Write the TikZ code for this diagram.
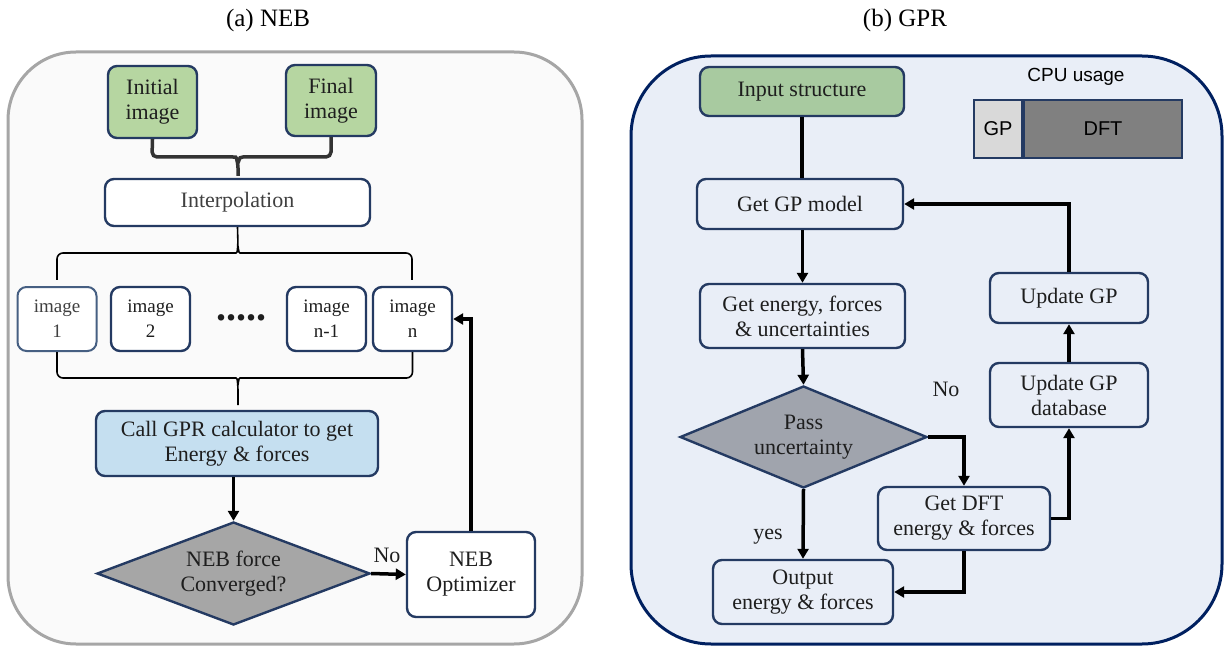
\documentclass[tikz,border=0pt]{standalone}
\usepackage{fontspec}
\setmainfont{Liberation Serif}
\newfontfamily\arialfont{Liberation Sans}
\usetikzlibrary{arrows.meta,shapes.geometric}
\definecolor{navy}{RGB}{36,58,98}
\definecolor{darknavy}{RGB}{0,32,96}
\definecolor{lpanel}{RGB}{250,250,250}
\definecolor{lborder}{RGB}{166,166,166}
\definecolor{rpanel}{RGB}{233,238,247}
\definecolor{lgreen}{RGB}{182,214,161}
\definecolor{rgreen}{RGB}{168,202,160}
\definecolor{lblue}{RGB}{197,223,240}
\definecolor{ldia}{RGB}{166,166,166}
\definecolor{rdia}{RGB}{160,164,173}
\definecolor{gplight}{RGB}{217,217,217}
\definecolor{dftgray}{RGB}{128,128,128}
\definecolor{txt}{RGB}{30,30,30}
\definecolor{gtxt}{RGB}{64,64,64}
\definecolor{bracegray}{RGB}{51,51,51}
\definecolor{im1border}{RGB}{70,95,130}
\tikzset{
  box/.style={draw=navy, line width=2.4pt, rounded corners=9pt, align=center, inner sep=0pt,
    font=\fontsize{22}{25}\selectfont, text=txt},
  imgbox/.style={box, minimum width=79pt, minimum height=64pt, fill=white, font=\fontsize{19}{25}\selectfont},
  dia/.style={draw=navy, line width=2.4pt, shape=diamond, inner sep=0pt},
  diatext/.style={align=center, font=\fontsize{22}{25}\selectfont, text=txt},
  arr/.style={line width=3.5pt, -{Triangle[length=10pt,width=11pt]}},
  plain/.style={line width=3.5pt},
  brace/.style={line width=3.5pt, draw=bracegray},
  thinbrace/.style={line width=1.6pt, draw=black},
  lbl/.style={font=\fontsize{22}{25}\selectfont, text=txt},
}
\begin{document}
\begin{tikzpicture}[x=1pt,y=-1pt]
\useasboundingbox (0,0) rectangle (1224,647);
\fill[white] (0,0) rectangle (1224,647);

% titles
\node[font=\fontsize{25}{28}\selectfont] (ta) at (268,20) {(a) NEB};
\node[font=\fontsize{25}{28}\selectfont] (tb) at (905,20) {(b) GPR};

% panels
\draw[draw=lborder, fill=lpanel, line width=3pt, rounded corners=68pt] (8,52) rectangle (582,644);
\draw[draw=darknavy, fill=rpanel, line width=3pt, rounded corners=80pt] (631,56) rectangle (1222,644);

% ---------- left panel ----------
\node[box, fill=lgreen, minimum width=89pt, minimum height=72pt] (ini) at (152.5,102) {Initial\\image};
\node[box, fill=lgreen, minimum width=90pt, minimum height=71pt] (fin) at (331,100.5) {Final\\image};
\node[box, fill=white, minimum width=265pt, minimum height=47pt, text=gtxt] (interp) at (237.5,202.5) {Interpolation};

\coordinate (b1) at (238,176);
\draw[brace, rounded corners=5pt] (ini.south) -- (152,157) -- (228,157) .. controls (236,157) .. (238,163) -- (b1);
\draw[brace, rounded corners=5pt] (fin.south) -- (331,157) -- (248,157) .. controls (240,157) .. (238,163);

\node[imgbox, draw=im1border, line width=2pt, text=gtxt] (im1) at (57,319) {image\\1};
\node[imgbox] (im2) at (150.5,319) {image\\2};
\node[font=\fontsize{40}{40}\selectfont\bfseries, text=txt] (dots) at (241,318) {.....};
\node[imgbox] (imn1) at (326.5,319) {image\\n-1};
\node[imgbox] (imn) at (412.5,319) {image\\n};

\coordinate (b2a) at (57,280);
\coordinate (b2b) at (412,280);
\draw[thinbrace, rounded corners=6pt] (b2a) -- (57,253) -- (230,253) .. controls (237,253) .. (238,246) -- (interp.south);
\draw[thinbrace, rounded corners=6pt] (b2b) -- (412,253) -- (246,253) .. controls (239,253) .. (238,246);

\node[box, fill=lblue, minimum width=282pt, minimum height=65pt] (gpr) at (237,443.5) {Call GPR calculator to get\\Energy \& forces};
\coordinate (b3) at (238,405);
\draw[thinbrace, rounded corners=6pt] (im1.south) -- (57,378) -- (230,378) .. controls (237,378) .. (238,385) -- (b3);
\draw[thinbrace, rounded corners=6pt] (imn.south) -- (412.5,378) -- (246,378) .. controls (239,378) .. (238,385);

\node[dia, fill=ldia, minimum width=273pt, minimum height=103pt] (neb) at (233.5,573.5) {};
\node[diatext] (nebt) at (233.5,573.5) {NEB force\\Converged?};
\node[box, fill=white, minimum width=128pt, minimum height=85pt] (opt) at (471,574.5) {NEB\\Optimizer};

\draw[arr] (neb.north |- gpr.south) -- (neb.north);
\draw[arr] (neb.east) -- (opt.west);
\node[lbl] (no1) at (387,555) {No};
\draw[arr] (opt.north) |- (imn.east);

% ---------- right panel ----------
\node[box, fill=rgreen, minimum width=204pt, minimum height=49pt] (inp) at (802,91.5) {Input structure};
\node[box, fill=rpanel, minimum width=206pt, minimum height=50pt] (gpm) at (800,204) {Get GP model};
\node[box, fill=rpanel, minimum width=205pt, minimum height=64pt] (gef) at (802.5,316) {Get energy, forces\\\& uncertainties};
\node[dia, fill=rdia, minimum width=247pt, minimum height=102pt] (pass) at (803.5,437) {};
\node[diatext] (passt) at (803.5,437) {Pass\\uncertainty};
\node[box, fill=rpanel, minimum width=180pt, minimum height=64pt] (out) at (803,592) {Output\\energy \& forces};
\node[box, fill=rpanel, minimum width=172pt, minimum height=63pt] (dft) at (964,518.5) {Get DFT\\energy \& forces};
\node[box, fill=rpanel, minimum width=158pt, minimum height=64pt] (ugd) at (1069,395) {Update GP\\database};
\node[box, fill=rpanel, minimum width=158pt, minimum height=50pt] (ugp) at (1069,298) {Update GP};

\draw[plain] (inp.south) -- (inp.south |- gpm.north);
\draw[arr] (gef.north |- gpm.south) -- (gef.north);
\draw[arr] (gef.south) -- (pass.north);
\draw[arr] (pass.south) -- (out.north);
\node[lbl] (yes) at (768,537) {yes};
\draw[arr] (pass.east) -| (dft.north);
\node[lbl] (no2) at (946,389) {No};
\draw[arr] (dft.south) |- (out.east);
\draw[arr] (dft.east) -| (ugd.south);
\draw[arr] (ugd.north) -- (ugp.south);
\draw[arr] (ugp.north) |- (gpm.east);

% CPU usage
\node[font=\arialfont\fontsize{19}{22}\selectfont, text=black] (cpu) at (1076,77) {CPU usage};
\node[draw=navy, line width=2pt, fill=gplight, minimum width=48pt, minimum height=58pt, inner sep=0pt,
  font=\arialfont\fontsize{20}{24}\selectfont] (gp) at (998,129) {GP};
\node[draw=navy, line width=2pt, fill=dftgray, minimum width=158pt, minimum height=58pt, inner sep=0pt,
  font=\arialfont\fontsize{20}{24}\selectfont, anchor=west] (dftbar) at (gp.east) {DFT};
\end{tikzpicture}
\end{document}
